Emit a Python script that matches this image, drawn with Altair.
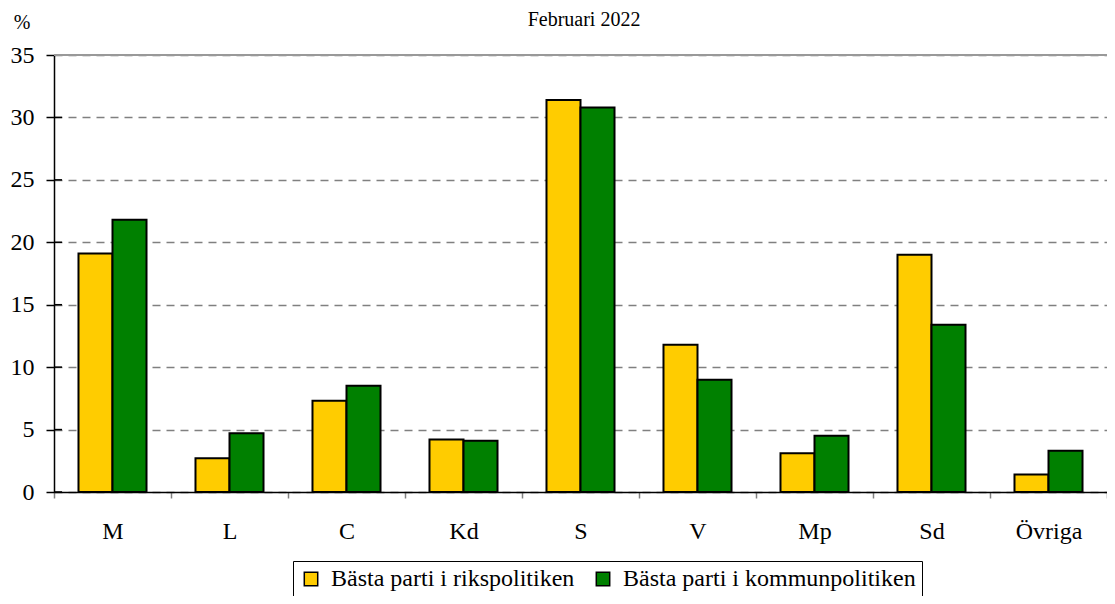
import altair as alt
import pandas as pd

categories = ["M", "L", "C", "Kd", "S", "V", "Mp", "Sd", "Övriga"]
riks = [19.1, 2.7, 7.3, 4.2, 31.4, 11.8, 3.1, 19.0, 1.4]
kommun = [21.8, 4.7, 8.5, 4.1, 30.8, 9.0, 4.5, 13.4, 3.3]
series = ["Bästa parti i rikspolitiken", "Bästa parti i kommunpolitiken"]
colors = ["#FFCC00", "#008000"]
y_ticks = [0, 5, 10, 15, 20, 25, 30, 35]
title_text = "Februari 2022"
unit_text = "%"

rows = []
for c, a, b in zip(categories, riks, kommun):
    rows.append({"parti": c, "serie": series[0], "v": a})
    rows.append({"parti": c, "serie": series[1], "v": b})
df = pd.DataFrame(rows)

FONT = "Liberation Serif"
W, H = 1053, 437

x = alt.X("parti:N", sort=categories, title=None,
          scale=alt.Scale(paddingInner=0, paddingOuter=0),
          axis=alt.Axis(labelAngle=0, tickBand="extent", tickColor="#808080",
                        tickSize=6, tickWidth=1.5, domainColor="black", domainWidth=1.5,
                        labelFont=FONT, labelFontSize=24, labelColor="black",
                        labelPadding=21, grid=False))
y = alt.Y("v:Q", title=None,
          scale=alt.Scale(domain=[0, 35], nice=False),
          axis=alt.Axis(values=y_ticks, grid=True, gridDash=[8, 6], gridColor="#808080",
                        gridWidth=1.3, tickColor="black", tickSize=8, tickWidth=1.5,
                        domainColor="black", domainWidth=1.5,
                        labelFont=FONT, labelFontSize=24, labelColor="black",
                        labelPadding=12))

bars = alt.Chart(df).mark_bar(stroke="black", strokeWidth=2, opacity=1).encode(
    x=x,
    y=y,
    xOffset=alt.XOffset("serie:N", sort=series,
                        scale=alt.Scale(paddingInner=0, paddingOuter=0.72)),
    color=alt.Color("serie:N", sort=series,
                    scale=alt.Scale(domain=series, range=colors),
                    legend=alt.Legend(orient="none", legendX=239, legendY=506,
                                      direction="horizontal", title=None,
                                      strokeColor="black", fillColor="white",
                                      padding=6, symbolType="square", symbolSize=180,
                                      symbolStrokeColor="black", symbolStrokeWidth=1.5,
                                      labelFont=FONT, labelFontSize=24, labelColor="black",
                                      labelLimit=500, columnPadding=16, labelOffset=8)),
)

# inner half of the cross-style y ticks
tick_df = pd.DataFrame({"v": y_ticks[:-1]})
inner_ticks = alt.Chart(tick_df).mark_rule(color="black", strokeWidth=1.5).encode(
    y=alt.Y("v:Q"), x=alt.value(0), x2=alt.value(8))

top_line = alt.Chart(pd.DataFrame({"v": [35]})).mark_rule(
    color="#999999", strokeWidth=2).encode(y=alt.Y("v:Q"))

title = alt.Chart(pd.DataFrame({"t": [title_text]})).mark_text(
    font=FONT, fontSize=20, color="black", align="center", baseline="alphabetic"
).encode(text="t:N", x=alt.value(530), y=alt.value(-29))

unit = alt.Chart(pd.DataFrame({"t": [unit_text]})).mark_text(
    font=FONT, fontSize=20, color="black", align="center", baseline="middle"
).encode(text="t:N", x=alt.value(-32), y=alt.value(-32))

chart = alt.layer(inner_ticks, bars, top_line, title, unit).properties(
    width=W, height=H,
    autosize=alt.AutoSizeParams(type="none"),
    padding={"left": 46, "top": 47, "right": 0, "bottom": 104},
).configure(background="white", font=FONT).configure_view(stroke=None)

chart.save("out.html", embed_options={"renderer": "svg", "actions": False})
